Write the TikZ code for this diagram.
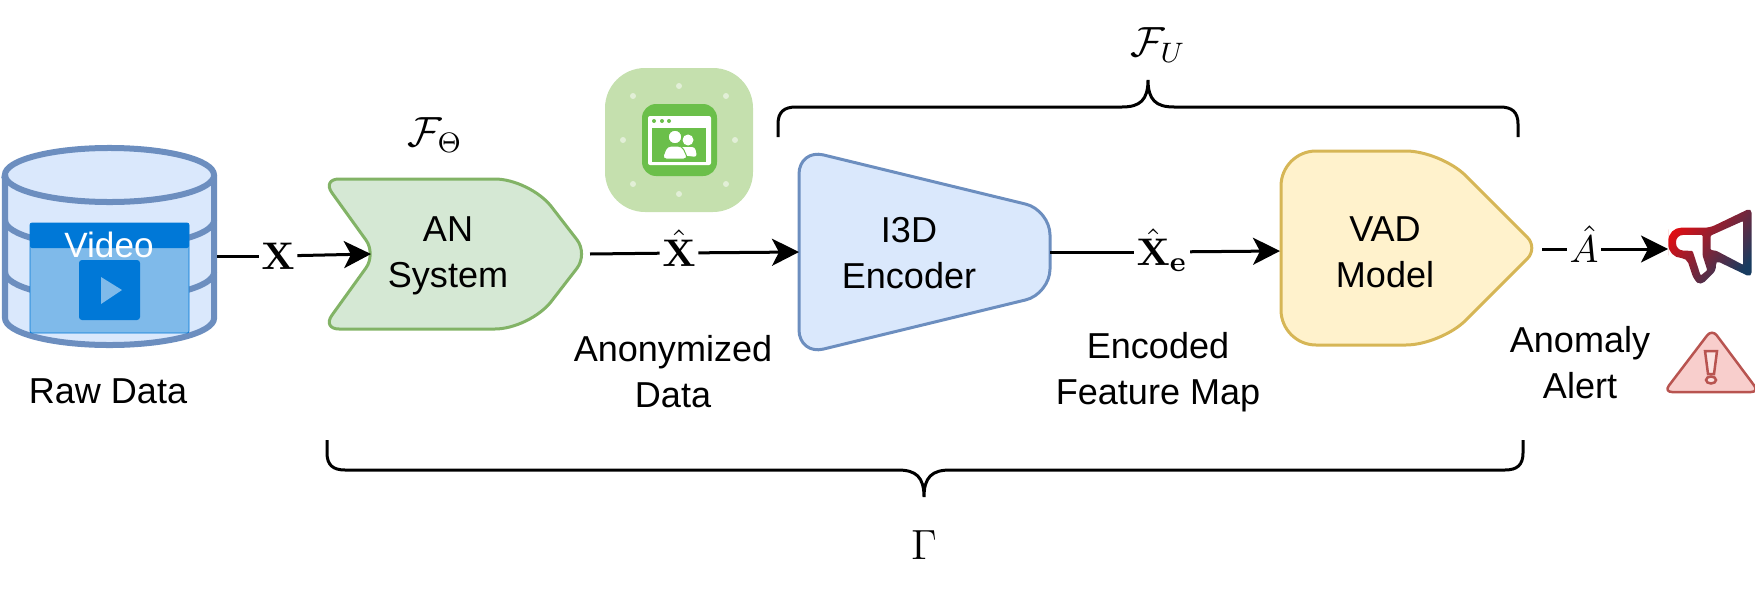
\documentclass[tikz,border=0pt]{standalone}
\usepackage[no-math]{fontspec}
\setmainfont{Liberation Sans}
\usetikzlibrary{arrows.meta}
\tikzset{>={Stealth[length=0.27cm,width=0.27cm,inset=0.07cm]}}
\definecolor{anfill}{HTML}{D5E8D4}
\definecolor{anline}{HTML}{82B366}
\definecolor{encfill}{HTML}{DAE8FC}
\definecolor{encline}{HTML}{6C8EBF}
\definecolor{vadfill}{HTML}{FFF2CC}
\definecolor{vadline}{HTML}{D6B656}
\definecolor{alertfill}{HTML}{F8CECC}
\definecolor{alertline}{HTML}{B85450}
\definecolor{videodark}{HTML}{0078D7}
\definecolor{videolight}{HTML}{7FBAEA}
\definecolor{iconsoft}{HTML}{C5E0AE}
\definecolor{icondot}{HTML}{E2EFD7}
\definecolor{icondark}{HTML}{6BBF4A}
\definecolor{hornred}{HTML}{E60C10}
\definecolor{hornmid}{HTML}{8C1E2C}
\definecolor{hornblue}{HTML}{183C60}
\tikzset{
    blocktext/.style={font=\fontsize{10.25}{12.8}\selectfont, align=center, inner sep=0pt},
    mathlabel/.style={font=\fontsize{12}{14}\selectfont, inner sep=0pt},
    onflow/.style={font=\fontsize{10.95}{13}\selectfont, text height=0.27cm, text depth=0pt, inner sep=0pt, inner xsep=0.02cm},
    flow/.style={line width=0.03cm},
    bracket/.style={line width=0.03cm},
    blockshape/.style={line width=0.03cm, line join=round}
}

\begin{document}
\begin{tikzpicture}[x=0.01cm, y=-0.01cm]
            \useasboundingbox (0, 0) rectangle (1755, 594);
            % raw data cylinder
            \filldraw[encfill, draw=encline, line width=0.06cm] (5, 175) -- (5, 318) arc[start angle=180, end angle=360, x radius=1.045cm, y radius=0.27cm] -- (214, 175) arc[start angle=0, end angle=180, x radius=1.045cm, y radius=0.27cm] -- cycle;
            \draw[encline, line width=0.06cm] (5, 175) arc[start angle=180, end angle=360, x radius=1.045cm, y radius=0.27cm];
            \draw[encline, line width=0.06cm] (5, 220) arc[start angle=180, end angle=360, x radius=1.045cm, y radius=0.27cm];
            \draw[encline, line width=0.06cm] (5, 272) arc[start angle=180, end angle=360, x radius=1.045cm, y radius=0.27cm];
            \coordinate (dbport) at (217, 256);
            % video tile
            \fill[videolight, rounded corners=0.02cm] (30, 223) rectangle (189, 333);
            \fill[videodark, rounded corners=0.02cm] (30, 223) -- (189, 223) -- (189, 248) -- (30, 248) -- cycle;
            \draw[videodark, line width=0.007cm, rounded corners=0.02cm] (30, 223) rectangle (189, 333);
            \fill[videodark, rounded corners=0.03cm] (79, 260) rectangle (140, 320);
            \fill[videolight] (101, 277) -- (122, 290) -- (101, 304) -- cycle;
            \node[font=\fontsize{10}{12}\selectfont, text=white, inner sep=0pt, anchor=base] (videotext) at (109, 257) {Video};
            \node[blocktext, anchor=base] (rawtext) at (108, 403) {Raw Data};
            % AN system
            \draw[blockshape, fill=anfill, draw=anline, rounded corners=0.17cm] (322, 179) -- (376, 254) -- (322, 329) [rounded corners=0.35cm] -- (530, 329) [rounded corners=0.18cm] -- (588, 254) [rounded corners=0.35cm] -- (530, 179) [rounded corners=0.17cm] -- cycle;
            \coordinate (annotch) at (371, 254);
            \coordinate (anport) at (590, 254);
            \node[blocktext, anchor=base] (antext) at (448, 287) {AN\\System};
            \node[mathlabel] (anlabel) at (435, 135) {\(\mathcal{F}_{\Theta}\)};
            % anonymizer icon
            \fill[iconsoft, rounded corners=0.4cm] (605, 68) rectangle (753, 212);
            \foreach \dotx/\doty in {633/96, 679/86, 726/96, 623/140, 735/140, 633/184, 679/194, 726/184}
                \fill[icondot] (\dotx, \doty) circle [radius = 0.03cm];
            \fill[icondark, rounded corners=0.14cm] (642, 104) rectangle (717, 176);
            \fill[white, rounded corners=0.02cm] (648, 116) rectangle (711, 165);
            \fill[icondark] (652, 128) rectangle (706, 162);
            \foreach \dotx in {654, 662, 669}
                \fill[icondark] (\dotx, 121) circle [radius = 0.02cm];
            \fill[white] (688, 140) circle [radius = 0.055cm];
            \fill[white, rounded corners=0.03cm] (680, 147) -- (695, 147) -- (697, 157) -- (680, 155) -- cycle;
            \draw[icondark, line width=0.015cm, fill=white] (675, 137) circle [radius = 0.07cm];
            \draw[icondark, line width=0.01cm, fill=white, rounded corners=0.04cm] (667, 146) -- (682, 146) -- (688, 159) -- (662, 159) -- cycle;
            % I3D encoder
            \draw[blockshape, fill=encfill, draw=encline, rounded corners=0.25cm] (799, 149) -- (1050, 210) -- (1050, 294) -- (799, 355) -- cycle;
            \coordinate (encin) at (799, 252);
            \coordinate (encport) at (1050, 252);
            \node[blocktext, anchor=base] (enctext) at (909, 288) {I3D\\Encoder};
            % VAD model
            \draw[blockshape, fill=vadfill, draw=vadline, rounded corners=0.35cm] (1281, 248) -- (1281, 151) -- (1441, 151) [rounded corners=0.15cm] -- (1538, 248) [rounded corners=0.35cm] -- (1441, 345) -- (1281, 345) -- cycle;
            \coordinate (vadin) at (1280, 251);
            \coordinate (vadport) at (1542, 249);
            \node[blocktext, anchor=base] (vadtext) at (1385, 287) {VAD\\Model};
            % megaphone
            \coordinate (hornin) at (1668, 249);
            \begin{scope}[shift={(1660, 205)}, x=0.00333cm, y=-0.00333cm]
                \shade[even odd rule, top color=hornred, middle color=hornmid, bottom color=hornblue, shading angle=50]
                    (25, 112) [rounded corners=0.13cm] -- (25, 68) [rounded corners=0.05cm] -- (150, 68) -- (275, 8) -- (275, 218) -- (166, 166) -- (170, 195) -- (122, 242) -- (102, 225) -- (80, 160) [rounded corners=0.13cm] -- (25, 158) -- cycle
                    (48, 112) [rounded corners=0.07cm] -- (48, 90) [rounded corners=0.01cm] -- (128, 90) -- (128, 152) -- (142, 196) -- (122, 212) -- (98, 138) [rounded corners=0.07cm] -- (48, 136) -- cycle
                    [rounded corners=0.01cm] (152, 92) -- (250, 48) -- (250, 180) -- (170, 138) -- (152, 135) -- cycle;
            \end{scope}
            % warning sign
            \draw[alertline, fill=alertfill, line width=0.025cm, rounded corners=0.08cm] (1712, 329) -- (1759, 392) -- (1664, 392) -- cycle;
            \draw[alertline, fill=alertfill!60, line width=0.025cm] (1705, 351) -- (1717, 351) -- (1714, 374) -- (1708, 374) -- cycle;
            \draw[alertline, fill=alertfill!60, line width=0.025cm] (1711, 380) circle [x radius=0.05cm, y radius=0.035cm];
            % flow labels and arrows
            \node[onflow] (xraw) at (278, 256) {\(\mathbf{X}\)};
            \node[onflow] (xanon) at (679, 253) {\(\hat{\mathbf{X}}\)};
            \node[onflow] (xenc) at (1162, 252) {\(\hat{\mathbf{X}}_{\mathbf{e}}\)};
            \node[onflow] (ahat) at (1584, 249) {\(\hat{A}\)};
            \draw[flow] (dbport) -- (xraw);
            \draw[flow, ->] (xraw) -- (annotch);
            \draw[flow] (anport) -- (xanon);
            \draw[flow, ->] (xanon) -- (encin);
            \draw[flow] (encport) -- (xenc);
            \draw[flow, ->] (xenc) -- (vadin);
            \draw[flow] (vadport) -- (ahat);
            \draw[flow, ->] (ahat) -- (hornin);
            % captions
            \node[blocktext, anchor=base] (anontext) at (673, 407) {Anonymized\\Data};
            \node[blocktext, anchor=base] (featuretext) at (1158, 404) {Encoded\\Feature Map};
            \node[blocktext, anchor=base] (alerttext) at (1580, 398) {Anomaly\\Alert};
            % braces
            \draw[bracket] (778, 137) -- (778, 124) .. controls (778, 112) and (784, 107) .. (796, 107) -- (1122, 107) .. controls (1140, 107) and (1148, 100) .. (1148, 80) .. controls (1148, 100) and (1156, 107) .. (1174, 107) -- (1500, 107) .. controls (1512, 107) and (1518, 112) .. (1518, 124) -- (1518, 137);
            \draw[bracket] (327, 440) -- (327, 453) .. controls (327, 465) and (333, 470) .. (345, 470) -- (898, 470) .. controls (916, 470) and (924, 477) .. (924, 497) .. controls (924, 477) and (932, 470) .. (950, 470) -- (1505, 470) .. controls (1517, 470) and (1523, 465) .. (1523, 453) -- (1523, 440);
            \node[mathlabel] (ulabel) at (1158, 45) {\(\mathcal{F}_{U}\)};
            \node[mathlabel] (gammalabel) at (924, 545) {\(\Gamma\)};
        \end{tikzpicture}
\end{document}
